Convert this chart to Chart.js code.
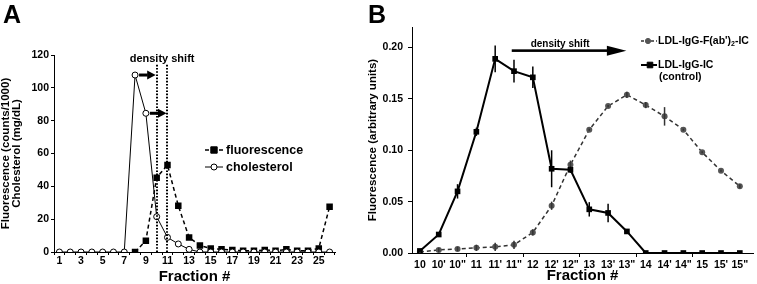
<!DOCTYPE html>
<html><head><meta charset="utf-8">
<script src="https://cdn.jsdelivr.net/npm/chart.js@4.4.1/dist/chart.umd.min.js"></script>
<style>
html,body{margin:0;padding:0;background:#fff;}
#wrap{position:relative;width:757px;height:284px;overflow:hidden;background:#fff;}
canvas{position:absolute;top:0;}
#cA{left:0;} #cB{left:358px;}
.panel{position:absolute;font:bold 25px "Liberation Sans",Arial,sans-serif;line-height:1;color:#000;}
</style></head>
<body><div id="wrap">
<canvas id="cA" width="358" height="284"></canvas>
<canvas id="cB" width="399" height="284"></canvas>
<div class="panel" style="left:3px;top:2px">A</div>
<div class="panel" style="left:368px;top:2px">B</div>
</div>
<script>
// ---------- Panel A data ----------
const fractionsA = ['1','2','3','4','5','6','7','8','9','10','11','12','13','14','15','16','17','18','19','20','21','22','23','24','25','26'];
const fluorescenceA = [null,null,null,null,null,null,null,0,6.9,45.3,53,28.2,8.9,3.9,2.2,1.6,1.2,0.8,0.8,1.2,0.8,1.6,0.8,0.8,2.2,27.6];
const cholesterolA = [0,0,0,0,0,0,0,107.8,84.5,21.5,8.9,4.9,1.6,0,0,0,0,0,0,0,0,0,0,0,0,0];
const yTicksA = [0,20,40,60,80,100,120];
const shiftLinesA = ['10','11'];
const shiftTopA = 115;
const arrowFromA = ['8','9'];
const arrowToA = ['10','11'];
const arrowYA = [107.8,84.5];

// ---------- Panel B data ----------
const fractionsB = ['10',"10'",'10"','11',"11'",'11"','12',"12'",'12"','13',"13'",'13"','14',"14'",'14"','15',"15'",'15"'];
const controlB = [0.002,0.018,0.060,0.118,0.189,0.177,0.171,0.082,0.081,0.0425,0.039,0.021,0,0,0,0,0,0];
const controlErrB = [0.001,0.001,0.007,0.004,0.013,0.011,0.0105,0.018,0.003,0.007,0.009,0.001,0,0,0,0,0,0];
const fabB = [0.001,0.003,0.004,0.005,0.006,0.008,0.020,0.046,0.086,0.120,0.143,0.154,0.144,0.133,0.120,0.098,0.080,0.065];
const fabErrB = [0.001,0.002,0.002,0.003,0.004,0.004,0.003,0.004,0.004,0.001,0.001,0.003,0.003,0.009,0.001,0.001,0.001,0.002];
const yTicksB = [0,0.05,0.10,0.15,0.20];
const arrowFromB = 4.88, arrowToB = 10.97, arrowYB = 0.197;

const FONT = '"Liberation Sans", Arial, sans-serif';
Chart.defaults.font.family = FONT;
Chart.defaults.font.weight = 'bold';
Chart.defaults.color = '#000';

function drawArrow(ctx, x1, y, x2, shaftW, headL, headH) {
  ctx.save();
  ctx.fillStyle = '#000';
  ctx.fillRect(x1, y - shaftW/2, (x2 - headL) - x1, shaftW);
  ctx.beginPath();
  ctx.moveTo(x2 - headL - 0.5, y - headH);
  ctx.lineTo(x2, y);
  ctx.lineTo(x2 - headL - 0.5, y + headH);
  ctx.closePath();
  ctx.fill();
  ctx.restore();
}

function drawMarker(ctx, style, x, y, r, fill, stroke) {
  ctx.save();
  ctx.fillStyle = fill; ctx.strokeStyle = stroke; ctx.lineWidth = 1; ctx.setLineDash([]);
  ctx.beginPath();
  if (style === 'rect') { ctx.rect(x - r, y - r, 2*r, 2*r); }
  else { ctx.arc(x, y, r, 0, Math.PI*2); }
  ctx.fill(); ctx.stroke();
  ctx.restore();
}

// ---------- Chart A ----------
const pluginA = {
  id: 'annotA',
  afterDatasetsDraw(chart) {
    const ctx = chart.ctx, xs = chart.scales.x, ys = chart.scales.y;
    ctx.save();
    ctx.strokeStyle = '#000'; ctx.lineWidth = 2; ctx.setLineDash([1.6,1.6]);
    shiftLinesA.forEach(f => {
      const x = Math.round(xs.getPixelForValue(fractionsA.indexOf(f)));
      ctx.beginPath(); ctx.moveTo(x, ys.getPixelForValue(0)); ctx.lineTo(x, ys.getPixelForValue(shiftTopA)); ctx.stroke();
    });
    ctx.setLineDash([]);
    arrowFromA.forEach((f, i) => {
      const x1 = xs.getPixelForValue(fractionsA.indexOf(f)) + 4;
      const x2 = xs.getPixelForValue(fractionsA.indexOf(arrowToA[i])) - 1;
      drawArrow(ctx, x1, ys.getPixelForValue(arrowYA[i]), x2, 3, 8, 4.5);
    });
    const xa = xs.getPixelForValue(fractionsA.indexOf(shiftLinesA[0]));
    const xb = xs.getPixelForValue(fractionsA.indexOf(shiftLinesA[1]));
    ctx.font = 'bold 11px ' + FONT; ctx.fillStyle = '#000'; ctx.textAlign = 'center'; ctx.textBaseline = 'alphabetic';
    ctx.fillText('density shift', (xa + xb)/2, ys.getPixelForValue(shiftTopA) - 1.5);
    const items = [
      {ds: chart.data.datasets[1], y: 150},
      {ds: chart.data.datasets[0], y: 167}
    ];
    items.forEach(it => {
      ctx.save();
      ctx.strokeStyle = '#000'; ctx.lineWidth = it.ds.borderWidth;
      ctx.setLineDash(it.ds.borderDash || []);
      ctx.beginPath(); ctx.moveTo(205, it.y); ctx.lineTo(223, it.y); ctx.stroke();
      ctx.restore();
      drawMarker(ctx, it.ds.pointStyle, 214, it.y, it.ds.pointStyle === 'rect' ? 3.2 : 3, it.ds.pointBackgroundColor, '#000');
      ctx.font = 'bold 12.5px ' + FONT; ctx.fillStyle = '#000'; ctx.textAlign = 'left'; ctx.textBaseline = 'middle';
      ctx.fillText(it.ds.label, 226, it.y + 0.5);
    });
    ctx.restore();
  }
};

new Chart(document.getElementById('cA'), {
  type: 'line',
  data: {
    labels: fractionsA,
    datasets: [
      { label: 'cholesterol', data: cholesterolA, borderColor: '#000', borderWidth: 1,
        pointStyle: 'circle', pointRadius: 3, pointBackgroundColor: '#fff', pointBorderColor: '#000', pointBorderWidth: 1, tension: 0 },
      { label: 'fluorescence', data: fluorescenceA, borderColor: '#000', borderWidth: 1.5, borderDash: [4,3],
        pointStyle: 'rect', pointRadius: 4.6, pointBackgroundColor: '#000', pointBorderColor: '#000', pointBorderWidth: 0, tension: 0, spanGaps: false }
    ]
  },
  options: {
    responsive: false, animation: false, devicePixelRatio: 1,
    layout: { padding: { left: 0, right: 23, top: 55, bottom: 0 } },
    plugins: { legend: { display: false }, tooltip: { enabled: false } },
    scales: {
      x: {
        type: 'category', offset: true,
        grid: { offset: true, drawOnChartArea: false, drawTicks: true, tickLength: 3, color: '#000' },
        border: { display: true, color: '#000', width: 1 },
        ticks: { autoSkip: false, maxRotation: 0, padding: 0, font: { size: 10.5, weight: 'bold' }, color: '#000',
          callback: (v, i) => (i % 2 === 0 ? fractionsA[i] : '') },
        title: { display: true, text: 'Fraction #', font: { size: 15, weight: 'bold', lineHeight: 1 }, padding: { top: 0, bottom: 0 }, color: '#000' },
        afterFit: s => { s.height = 32; }
      },
      y: {
        min: 0, max: 120,
        afterBuildTicks: s => { s.ticks = yTicksA.map(v => ({ value: v })); },
        grid: { drawOnChartArea: false, drawTicks: true, tickLength: 3, color: '#000' },
        border: { display: true, color: '#000', width: 1 },
        ticks: { padding: 2, font: { size: 10.5, weight: 'bold' }, color: '#000' },
        title: { display: true, text: ['Fluorescence (counts/1000)', 'Cholesterol (mg/dL)'], font: { size: 11.5, weight: 'bold', lineHeight: 1 }, padding: { top: 0, bottom: 0 }, color: '#000' },
        afterFit: s => { s.width = 54; }
      }
    }
  },
  plugins: [pluginA]
});

// ---------- Chart B ----------
const pluginB = {
  id: 'annotB',
  afterDatasetsDraw(chart) {
    const ctx = chart.ctx, xs = chart.scales.x, ys = chart.scales.y;
    ctx.save();
    [[1, fabB, fabErrB, '#333'], [0, controlB, controlErrB, '#000']].forEach(([di, vals, errs, col]) => {
      ctx.strokeStyle = col; ctx.lineWidth = 1.5; ctx.setLineDash([]);
      vals.forEach((v, i) => {
        if (!errs[i]) return;
        const x = xs.getPixelForValue(i);
        ctx.beginPath(); ctx.moveTo(x, ys.getPixelForValue(v - errs[i])); ctx.lineTo(x, ys.getPixelForValue(v + errs[i])); ctx.stroke();
      });
    });
    const ay = ys.getPixelForValue(arrowYB);
    const ax1 = xs.getPixelForValue(arrowFromB), ax2 = xs.getPixelForValue(arrowToB);
    drawArrow(ctx, ax1, ay, ax2, 2.6, 19, 5);
    ctx.font = 'bold 10px ' + FONT; ctx.fillStyle = '#000'; ctx.textAlign = 'center'; ctx.textBaseline = 'alphabetic';
    ctx.fillText('density shift', xs.getPixelForValue(7.45), ay - 3.5);
    const lx0 = 641 - 358, lx1 = 657 - 358, mx = 648 - 358, tx = 658 - 358;
    const dsF = chart.data.datasets[1], dsC = chart.data.datasets[0];
    ctx.save(); ctx.strokeStyle = dsF.borderColor; ctx.lineWidth = 1.5; ctx.setLineDash([3,2]);
    ctx.beginPath(); ctx.moveTo(lx0, 41); ctx.lineTo(lx1, 41); ctx.stroke(); ctx.restore();
    drawMarker(ctx, 'circle', mx, 41, 2.6, dsF.pointBackgroundColor, dsF.pointBackgroundColor);
    ctx.font = 'bold 10.5px ' + FONT; ctx.fillStyle = '#000'; ctx.textAlign = 'left'; ctx.textBaseline = 'middle';
    let t1 = "LDL-IgG-F(ab')";
    ctx.fillText(t1, tx, 41);
    let w1 = ctx.measureText(t1).width;
    ctx.font = 'bold 7px ' + FONT;
    ctx.fillText('2', tx + w1, 44);
    let w2 = ctx.measureText('2').width;
    ctx.font = 'bold 10.5px ' + FONT;
    ctx.fillText('-IC', tx + w1 + w2, 41);
    ctx.save(); ctx.strokeStyle = '#000'; ctx.lineWidth = 2; ctx.setLineDash([]);
    ctx.beginPath(); ctx.moveTo(lx0, 65); ctx.lineTo(lx1, 65); ctx.stroke(); ctx.restore();
    drawMarker(ctx, 'rect', mx + 2, 65, 2.8, '#000', '#000');
    ctx.fillText(dsC.label, tx, 65);
    ctx.fillText('(control)', tx + 1, 77);
    ctx.restore();
  }
};

new Chart(document.getElementById('cB'), {
  type: 'line',
  data: {
    datasets: [
      { label: 'LDL-IgG-IC', data: controlB.map((v, i) => ({ x: i, y: v })), borderColor: '#000', borderWidth: 2,
        pointStyle: 'rect', pointRadius: 4, pointBackgroundColor: '#000', pointBorderColor: '#000', pointBorderWidth: 0, tension: 0 },
      { label: "LDL-IgG-F(ab')2-IC", data: fabB.map((v, i) => ({ x: i, y: v })), borderColor: '#333', borderWidth: 1.5, borderDash: [4,3],
        pointStyle: 'circle', pointRadius: 3, pointBackgroundColor: '#555', pointBorderColor: '#555', pointBorderWidth: 0, tension: 0 }
    ]
  },
  options: {
    responsive: false, animation: false, devicePixelRatio: 1,
    layout: { padding: { left: 0, right: 0, top: 27, bottom: 0 } },
    plugins: { legend: { display: false }, tooltip: { enabled: false } },
    scales: {
      x: {
        type: 'linear', min: -0.42, max: 17.7,
        afterBuildTicks: s => { s.ticks = fractionsB.map((_, i) => ({ value: i })); },
        grid: { offset: true, drawOnChartArea: false, drawTicks: true, tickLength: 4,
          color: c => (c.index > 0 && c.index < fractionsB.length && c.index % 3 === 0) ? '#000' : 'rgba(0,0,0,0)' },
        border: { display: true, color: '#000', width: 1 },
        ticks: { autoSkip: false, maxRotation: 0, padding: 2, font: { size: 10.5, weight: 'bold' }, color: '#000',
          callback: v => fractionsB[v] },
        title: { display: true, text: 'Fraction #', font: { size: 15, weight: 'bold', lineHeight: 1 }, padding: { top: 0, bottom: 0.5 }, color: '#000' },
        afterFit: s => { s.height = 31; }
      },
      y: {
        min: 0, max: 0.22,
        afterBuildTicks: s => { s.ticks = yTicksB.map(v => ({ value: v })); },
        grid: { drawOnChartArea: false, drawTicks: true, tickLength: 4, color: '#000' },
        border: { display: true, color: '#000', width: 1 },
        ticks: { padding: 5, font: { size: 10.5, weight: 'bold' }, color: '#000', callback: v => v.toFixed(2) },
        title: { display: true, text: 'Fluorescence (arbitrary units)', font: { size: 11.5, weight: 'bold', lineHeight: 1 }, padding: { top: 9, bottom: 0 }, color: '#000' },
        afterFit: s => { s.width = 54; }
      }
    }
  },
  plugins: [pluginB]
});
</script>
</body></html>
